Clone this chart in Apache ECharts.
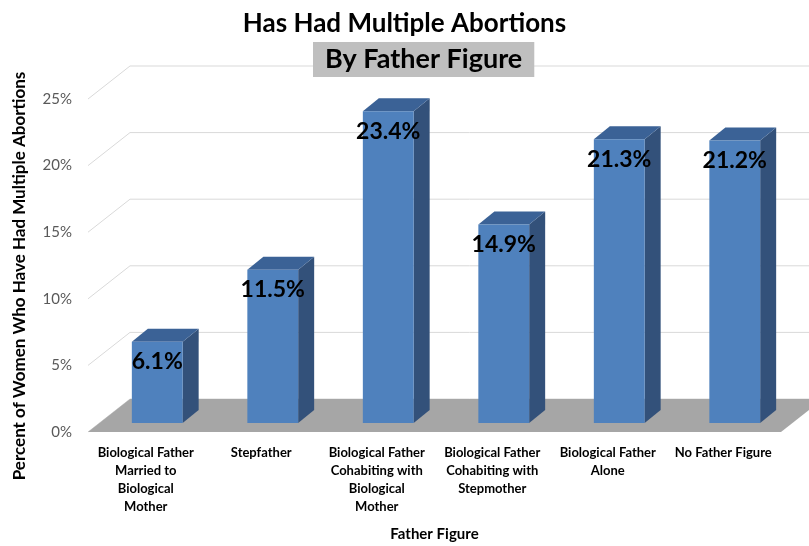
<!DOCTYPE html>
<html>
<head>
<meta charset="utf-8">
<script src="https://cdn.jsdelivr.net/npm/echarts@6/dist/echarts.min.js"></script>
<style>
  html, body { margin: 0; padding: 0; background: #fff; }
  #chart { width: 809px; height: 546px; }
</style>
</head>
<body>
<div id="chart"></div>
<script>
// data
const categories = [
    'Biological Father\nMarried to\nBiological\nMother',
    'Stepfather',
    'Biological Father\nCohabiting with\nBiological\nMother',
    'Biological Father\nCohabiting with\nStepmother',
    'Biological Father\nAlone',
    'No Father Figure'
];
const values = [6.1, 11.5, 23.4, 14.9, 21.3, 21.2];
const yTicks = [0, 5, 10, 15, 20, 25];

const FONT = 'Lato';
// 3d look: floor depth and where the bars sit inside it
const floorDx = 42, floorDy = -33;
const barShiftX = 11.5, barShiftY = -9, barDx = 16, barDy = -13;

let myChart = echarts.init(document.getElementById('chart'));

// back wall grid lines + diagonal on the left side wall
function renderWall(params, api) {
    const cs = params.coordSys;
    const p = api.coord([0, api.value(1)]);
    const left = cs.x, y = p[1];
    return {
        type: 'polyline',
        shape: {points: [[left, y], [left + floorDx, y + floorDy], [809, y + floorDy]]},
        style: {stroke: '#d9d9d9', lineWidth: 1, fill: null}
    };
}

function renderFloor(params, api) {
    const cs = params.coordSys;
    const y0 = api.coord([0, 0])[1];
    const l = cs.x, r = cs.x + cs.width;
    return {
        type: 'polygon',
        shape: {points: [[l, y0], [r, y0], [r + floorDx, y0 + floorDy], [l + floorDx, y0 + floorDy]]},
        style: {fill: '#a6a6a6'}
    };
}

function renderBar(params, api) {
    const idx = api.value(0), v = api.value(1);
    const top = api.coord([idx, v]);
    const bot = api.coord([idx, 0]);
    const band = api.size([1, 0])[0];
    const w = band * 0.44;
    const x0 = top[0] - w / 2 + barShiftX, x1 = x0 + w;
    const yT = top[1] + barShiftY, yB = bot[1] + barShiftY;
    return {
        type: 'group',
        children: [
            {type: 'polygon', shape: {points: [[x1, yT], [x1 + barDx, yT + barDy], [x1 + barDx, yB + barDy], [x1, yB]]},
                style: {fill: '#33517a'}},
            {type: 'polygon', shape: {points: [[x0, yT], [x1, yT], [x1 + barDx, yT + barDy], [x0 + barDx, yT + barDy]]},
                style: {fill: '#3b6296'}},
            {type: 'rect', shape: {x: x0, y: yT, width: w, height: yB - yT},
                style: {fill: '#4f81bd'}},
            {type: 'text', style: {
                text: v.toFixed(1) + '%', x: x0 + w / 2, y: yT + 20,
                align: 'center', verticalAlign: 'middle',
                fill: '#000', font: 'bold 23px ' + FONT
            }}
        ]
    };
}

myChart.setOption({
    animation: false,
    title: [{
        text: 'Has Had Multiple Abortions',
        left: 'center',
        top: 6,
        textStyle: {fontFamily: FONT, fontSize: 26, fontWeight: 'bold', color: '#000'}
    }, {
        text: 'By Father Figure',
        left: 313,
        top: 42,
        padding: [4, 12, 4, 12],
        backgroundColor: '#bfbfbf',
        textStyle: {fontFamily: FONT, fontSize: 27, fontWeight: 'bold', color: '#000'}
    }],
    graphic: [{
        type: 'text',
        x: 20, y: 276,
        rotation: Math.PI / 2,
        style: {
            text: 'Percent of Women Who Have Had Multiple Abortions',
            align: 'center', verticalAlign: 'middle',
            font: 'bold 17px ' + FONT, fill: '#000'
        }
    }],
    grid: {left: 88, right: 28, top: 99, bottom: 114, outerBoundsMode: 'none', containLabel: false},
    xAxis: {
        type: 'category',
        data: categories,
        name: 'Father Figure',
        nameLocation: 'middle',
        nameGap: 95,
        nameTextStyle: {fontFamily: FONT, fontSize: 15, fontWeight: 'bold', color: '#000'},
        axisLine: {show: false},
        axisTick: {show: false},
        axisLabel: {
            interval: 0, margin: 12, lineHeight: 18,
            fontFamily: FONT, fontSize: 13, fontWeight: 'bold', color: '#000'
        }
    },
    yAxis: {
        type: 'value',
        min: 0, max: 25, interval: 5,
        axisLine: {show: false},
        axisTick: {show: false},
        splitLine: {show: false},
        axisLabel: {formatter: '{value}%', margin: 16, fontFamily: FONT, fontSize: 15, color: '#595959'}
    },
    series: [{
        type: 'custom',
        z: 1,
        renderItem: renderWall,
        data: yTicks.map(t => [0, t])
    }, {
        type: 'custom',
        z: 2,
        renderItem: renderFloor,
        data: [[0, 0]]
    }, {
        type: 'custom',
        z: 3,
        renderItem: renderBar,
        data: values.map((v, i) => [i, v])
    }]
});
window.addEventListener('resize', () => myChart.resize());
</script>
</body>
</html>
